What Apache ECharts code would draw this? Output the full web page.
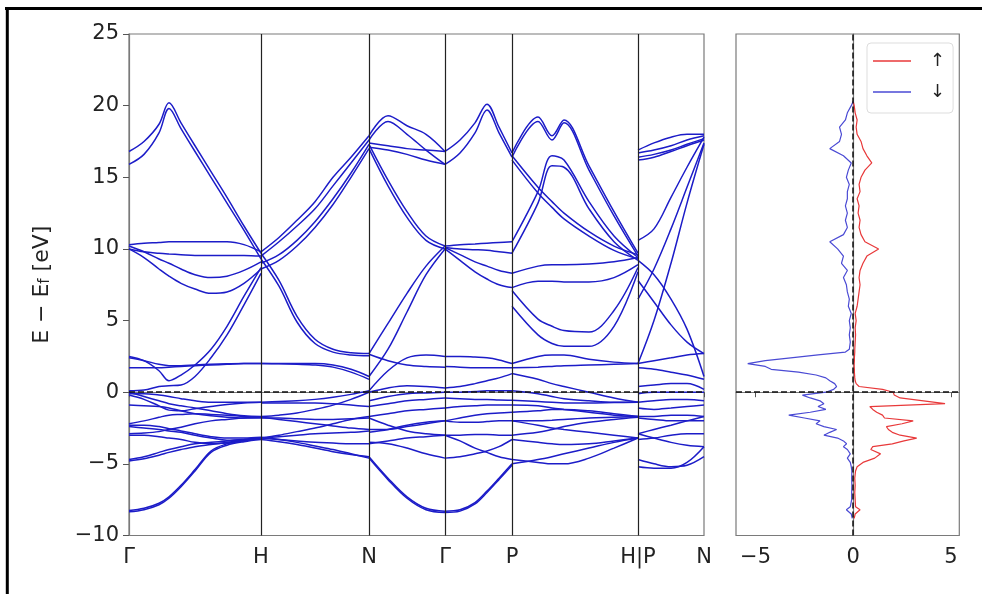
<!DOCTYPE html>
<html>
<head>
<meta charset="utf-8">
<script src="https://cdn.jsdelivr.net/npm/echarts@6/dist/echarts.min.js"></script>
<style>
  html, body { margin: 0; padding: 0; background: #fff; }
  #chart { width: 982px; height: 594px; }
</style>
</head>
<body>
<div id="chart"></div>
<script>
// k-path: high symmetry points (path length units)
const kTicks = [0, 132, 240, 316, 383, 509, 575]
const kLabels = ['Γ', 'H', 'N', 'Γ', 'P', 'H|P', 'N']

// k grids of every segment
const kGH = [0, 15, 30, 40, 52, 66, 82, 98, 115, 132]
const kHN = [132, 150, 168, 186, 204, 222, 240]
const kNG = [240, 259, 278, 297, 316]
const kGP = [316, 331, 346, 358, 370, 383]
const kPH = [383, 409, 423, 435, 460, 485, 509]
const kPN = [509, 525, 542, 558, 575]

// band energies (eV) read along each segment
const bandsGH = [
  [16.8, 17.5, 18.7, 20.2, 18.8, 17.2, 15.4, 13.6, 11.6, 9.7],
  [15.9, 16.6, 18.1, 19.8, 18.4, 16.8, 15.0, 13.2, 11.3, 9.3],
  [10.3, 10.4, 10.45, 10.5, 10.5, 10.5, 10.5, 10.5, 10.3, 9.8],
  [10.0, 9.8, 9.7, 9.65, 9.6, 9.55, 9.55, 9.55, 9.55, 9.5],
  [10.2, 9.8, 9.3, 9.0, 8.6, 8.2, 8.0, 8.1, 8.5, 9.1],
  [10.0, 9.4, 8.6, 8.1, 7.6, 7.2, 6.9, 7.0, 7.6, 8.6],
  [2.5, 2.2, 1.5, 0.8, 1.2, 1.9, 3.0, 4.6, 6.7, 8.7],
  [0.1, 0.15, 0.4, 0.45, 0.5, 1.1, 2.4, 4.0, 6.1, 8.3],
  [1.7, 1.7, 1.7, 1.75, 1.8, 1.85, 1.9, 1.95, 2.0, 2.0],
  [2.4, 2.2, 1.95, 1.85, 1.85, 1.9, 1.95, 1.98, 2.0, 2.0],
  [-0.1, -0.1, -0.2, -0.3, -0.45, -0.6, -0.7, -0.7, -0.7, -0.7],
  [-0.2, -0.5, -0.95, -1.25, -1.3, -1.15, -1.0, -0.85, -0.75, -0.7],
  [-0.9, -0.95, -1.0, -1.1, -1.3, -1.5, -1.65, -1.75, -1.8, -1.8],
  [-2.2, -2.0, -1.75, -1.6, -1.55, -1.5, -1.55, -1.6, -1.7, -1.75],
  [-2.4, -2.5, -2.6, -2.7, -2.8, -3.0, -3.2, -3.35, -3.3, -3.2],
  [-2.9, -2.85, -2.75, -2.6, -2.45, -2.2, -2.0, -1.9, -1.8, -1.75],
  [-4.7, -4.5, -4.2, -4.0, -3.8, -3.6, -3.5, -3.4, -3.3, -3.2],
  [-4.8, -4.65, -4.4, -4.2, -4.0, -3.8, -3.65, -3.5, -3.35, -3.25],
  [-8.25, -8.1, -7.75, -7.3, -6.5, -5.4, -4.1, -3.6, -3.35, -3.2],
  [-8.35, -8.2, -7.85, -7.4, -6.6, -5.5, -4.2, -3.7, -3.45, -3.3],
  [-3.0, -3.0, -3.1, -3.2, -3.3, -3.5, -3.6, -3.55, -3.4, -3.2],
  [-2.3, -2.3, -2.4, -2.55, -2.7, -2.9, -3.1, -3.2, -3.2, -3.15],
  [0.0, -0.3, -0.6, -0.8, -0.95, -1.1, -1.3, -1.5, -1.65, -1.7]
]
const bandsHN = [
  [9.8, 10.8, 12.0, 13.3, 15.0, 16.4, 17.9],
  [9.5, 10.5, 11.6, 12.8, 14.4, 16.0, 17.6],
  [9.0, 9.6, 10.6, 11.9, 13.5, 15.3, 17.3],
  [8.6, 9.2, 10.2, 11.5, 13.1, 15.0, 17.0],
  [9.7, 7.8, 5.3, 3.7, 3.0, 2.75, 2.7],
  [9.3, 7.4, 4.9, 3.4, 2.8, 2.6, 2.55],
  [2.0, 2.0, 2.0, 2.0, 1.9, 1.6, 1.1],
  [2.0, 1.98, 1.95, 1.9, 1.75, 1.4, 0.9],
  [-0.7, -0.65, -0.6, -0.5, -0.35, -0.15, 0.1],
  [-0.75, -0.75, -0.75, -0.75, -0.8, -0.9, -1.0],
  [-1.7, -1.6, -1.45, -1.2, -0.9, -0.5, 0.0],
  [-1.8, -1.8, -1.85, -1.9, -1.9, -1.85, -1.8],
  [-3.2, -3.0, -2.75, -2.5, -2.2, -1.9, -1.7],
  [-3.2, -3.3, -3.4, -3.5, -3.55, -3.6, -3.6],
  [-3.3, -3.45, -3.65, -3.9, -4.15, -4.35, -4.5],
  [-3.15, -3.3, -3.5, -3.75, -4.0, -4.3, -4.6],
  [-1.75, -1.9, -2.05, -2.2, -2.35, -2.5, -2.6],
  [-3.2, -3.1, -3.0, -2.9, -2.85, -2.8, -2.7]
]
const bandsNG = [
  [17.9, 19.3, 18.6, 18.0, 16.8],
  [17.6, 18.9, 18.0, 16.9, 15.9],
  [17.4, 17.2, 17.0, 16.9, 16.8],
  [17.1, 16.9, 16.6, 16.2, 15.9],
  [17.3, 14.8, 12.6, 10.9, 10.2],
  [17.0, 14.4, 12.2, 10.6, 10.0],
  [2.7, 4.8, 6.9, 8.8, 10.2],
  [1.1, 3.0, 5.6, 8.2, 10.0],
  [0.1, 1.5, 2.4, 2.6, 2.5],
  [2.65, 2.2, 1.9, 1.8, 1.75],
  [0.0, 0.3, 0.45, 0.4, 0.3],
  [-0.6, -0.3, -0.1, -0.05, 0.0],
  [-1.0, -0.8, -0.6, -0.5, -0.4],
  [-1.7, -1.5, -1.3, -1.2, -1.1],
  [-2.6, -2.6, -2.4, -2.2, -2.0],
  [-1.8, -2.3, -2.7, -2.9, -3.0],
  [-3.5, -3.6, -3.9, -4.3, -4.6],
  [-4.5, -6.0, -7.3, -8.1, -8.3],
  [-4.6, -6.1, -7.4, -8.2, -8.4],
  [-3.6, -3.4, -3.2, -3.1, -3.0],
  [-2.8, -2.6, -2.3, -2.1, -2.0]
]
const bandsGP = [
  [16.8, 17.6, 18.8, 20.1, 18.5, 16.7],
  [15.9, 16.7, 18.1, 19.7, 18.1, 16.4],
  [10.2, 10.3, 10.35, 10.4, 10.45, 10.5],
  [10.1, 10.0, 9.95, 9.9, 9.8, 9.7],
  [10.1, 9.6, 9.1, 8.8, 8.5, 8.3],
  [10.0, 9.2, 8.4, 7.9, 7.5, 7.3],
  [2.5, 2.5, 2.45, 2.4, 2.25, 2.0],
  [1.8, 1.75, 1.7, 1.7, 1.7, 1.7],
  [0.3, 0.4, 0.6, 0.8, 1.0, 1.3],
  [0.0, 0.0, 0.05, 0.1, 0.1, 0.1],
  [-0.4, -0.45, -0.5, -0.5, -0.55, -0.56],
  [-1.1, -1.0, -0.95, -0.9, -0.9, -0.9],
  [-2.0, -1.8, -1.6, -1.5, -1.45, -1.4],
  [-2.0, -2.1, -2.1, -2.05, -2.0, -2.0],
  [-3.0, -3.0, -2.95, -2.95, -3.0, -3.0],
  [-4.6, -4.5, -4.3, -4.1, -3.8, -3.3],
  [-8.3, -8.2, -7.7, -6.9, -6.0, -5.0],
  [-8.4, -8.3, -7.8, -7.0, -6.1, -5.1],
  [-3.0, -3.4, -3.9, -4.2, -4.5, -4.7]
]
const bandsPH = [
  [16.7, 19.2, 17.9, 19.0, 15.8, 12.6, 9.7],
  [16.4, 18.9, 17.6, 18.8, 15.5, 12.3, 9.5],
  [16.5, 14.3, 13.3, 12.5, 11.2, 10.2, 9.6],
  [16.2, 13.9, 12.9, 12.1, 10.9, 9.9, 9.3],
  [10.5, 14.0, 16.5, 16.2, 13.3, 10.9, 9.4],
  [9.7, 13.2, 15.8, 15.7, 12.8, 10.5, 9.2],
  [8.3, 8.8, 8.9, 8.9, 8.95, 9.1, 9.4],
  [7.3, 7.75, 7.75, 7.7, 7.7, 8.0, 8.9],
  [7.1, 5.1, 4.6, 4.3, 4.2, 5.7, 8.7],
  [6.0, 4.0, 3.4, 3.2, 3.2, 4.6, 8.4],
  [2.0, 2.5, 2.6, 2.6, 2.3, 2.1, 2.0],
  [1.7, 1.75, 1.8, 1.85, 1.9, 1.95, 2.0],
  [1.3, 0.9, 0.6, 0.4, 0.0, -0.4, -0.7],
  [0.1, -0.1, -0.3, -0.45, -0.6, -0.7, -0.7],
  [-0.56, -0.65, -0.7, -0.75, -0.75, -0.72, -0.7],
  [-0.9, -0.95, -1.1, -1.2, -1.4, -1.6, -1.7],
  [-1.4, -1.3, -1.2, -1.2, -1.3, -1.5, -1.7],
  [-2.0, -2.0, -1.95, -1.9, -1.8, -1.75, -1.7],
  [-3.0, -2.8, -2.6, -2.4, -2.1, -1.9, -1.75],
  [-3.3, -3.5, -3.6, -3.65, -3.6, -3.4, -3.2],
  [-4.7, -4.9, -5.0, -5.0, -4.6, -3.9, -3.2],
  [-5.0, -4.7, -4.5, -4.3, -3.9, -3.5, -3.2],
  [-2.0, -2.3, -2.5, -2.6, -2.8, -3.0, -3.2]
]
const bandsPN = [
  [16.9, 17.4, 17.8, 18.0, 18.0],
  [16.7, 16.9, 17.2, 17.6, 17.9],
  [16.2, 16.4, 16.8, 17.2, 17.6],
  [16.4, 16.6, 16.9, 17.3, 17.7],
  [10.6, 11.4, 13.6, 15.7, 17.8],
  [6.5, 8.6, 11.4, 14.3, 17.4],
  [2.0, 5.0, 9.0, 13.2, 17.3],
  [7.8, 6.3, 4.7, 3.5, 2.7],
  [9.2, 8.2, 6.5, 4.4, 1.1],
  [2.0, 2.2, 2.4, 2.6, 2.7],
  [1.7, 1.6, 1.4, 1.2, 0.9],
  [0.4, 0.5, 0.6, 0.6, 0.2],
  [-0.1, 0.0, 0.0, 0.0, 0.0],
  [-0.7, -0.6, -0.5, -0.5, -0.6],
  [-1.1, -1.2, -1.1, -1.0, -0.9],
  [-1.7, -1.7, -1.6, -1.6, -1.7],
  [-1.8, -1.9, -2.0, -2.0, -2.0],
  [-2.9, -2.6, -2.3, -2.0, -1.7],
  [-3.3, -3.2, -3.0, -2.9, -2.9],
  [-4.7, -5.0, -5.2, -5.1, -4.5],
  [-5.2, -5.3, -5.3, -4.9, -3.8],
  [-2.9, -3.2, -3.5, -3.7, -3.8]
]

// density of states, energy grid (eV) and spin up / spin down
const dosE = [
  -8.8, -8.5, -8.2, -8.0, -7.5, -7.0, -6.5, -6.0, -5.5, -5.2,
  -4.9, -4.6, -4.3, -4.0, -3.8, -3.6, -3.4, -3.2, -3.0, -2.8,
  -2.6, -2.4, -2.2, -2.0, -1.8, -1.6, -1.4, -1.2, -1.0, -0.8,
  -0.6, -0.4, -0.2, 0.0, 0.2, 0.4, 0.6, 0.8, 1.0, 1.2,
  1.4, 1.6, 1.8, 2.0, 2.2, 2.4, 2.6, 2.8, 3.0, 3.5,
  4.0, 4.5, 5.0, 5.5, 6.0, 6.5, 7.0, 7.5, 8.0, 8.5,
  9.0, 9.5, 10.0, 10.5, 11.0, 11.5, 12.0, 12.5, 13.0, 13.5,
  14.0, 14.5, 15.0, 15.5, 16.0, 16.5, 17.0, 17.5, 18.0, 18.5,
  19.0, 19.5, 20.0, 20.3
]
const dosUp = [
  0.05, 0.1, 0.35, 0.12, 0.1, 0.08, 0.1, 0.08, 0.12, 0.2,
  0.5, 1.1, 1.4, 0.9, 1.0, 2.0, 2.6, 3.25, 2.4, 2.0,
  1.8, 1.7, 2.5, 3.07, 1.6, 1.5, 1.2, 1.0, 0.85, 4.7,
  3.6, 2.4, 2.1, 2.05, 1.5, 0.3, 0.15, 0.1, 0.08, 0.07,
  0.06, 0.06, 0.05, 0.05, 0.06, 0.06, 0.07, 0.08, 0.08, 0.1,
  0.12, 0.1, 0.15, 0.1, 0.2, 0.25, 0.3, 0.35, 0.3, 0.35,
  0.5, 0.7, 1.3, 0.6, 0.4, 0.3, 0.35, 0.25, 0.3, 0.2,
  0.35, 0.3, 0.4, 0.6, 0.95, 0.7, 0.5, 0.4, 0.2, 0.15,
  0.2, 0.1, 0.05, 0.0
]
const dosDown = [
  -0.05, -0.1, -0.35, -0.15, -0.08, -0.08, -0.07, -0.08, -0.07, -0.1,
  -0.15, -0.3, -0.15, -0.3, -0.5, -0.34, -0.5, -0.8, -1.5, -1.2,
  -0.85, -1.5, -1.9, -1.7, -2.5, -3.3, -2.2, -1.4, -1.8, -1.5,
  -1.7, -2.2, -2.6, -1.4, -1.0, -0.85, -0.95, -1.2, -1.4, -1.9,
  -2.8, -4.2, -4.5, -5.4, -4.5, -3.2, -1.8, -0.4, -0.2, -0.15,
  -0.2, -0.15, -0.2, -0.1, -0.25, -0.2, -0.3, -0.35, -0.5, -0.3,
  -0.6, -0.5, -0.8, -1.2, -0.5, -0.3, -0.4, -0.3, -0.4, -0.3,
  -0.3, -0.2, -0.35, -0.25, -0.1, -0.5, -1.2, -0.7, -0.6, -0.7,
  -0.4, -0.3, -0.1, 0.0
]
const dosTicks = [-5, 0, 5]

const BAND_COLOR = '#1c1cc8'
const UP_COLOR = '#e8393a'
const DOWN_COLOR = '#4a4ad4'
const FONT = 'DejaVu Sans'

function minus(v) {
  return v < 0 ? '\u2212' + Math.abs(v) : String(v)
}

// one line series per band piece
function segmentSeries(grid, bands) {
  return bands.map(b => ({
    type: 'line',
    xAxisIndex: 0,
    yAxisIndex: 0,
    data: grid.map((k, i) => [k, b[i]]),
    smooth: 0.35,
    showSymbol: false,
    silent: true,
    lineStyle: { color: BAND_COLOR, width: 1.5 },
    z: 2
  }))
}

const chart = echarts.init(document.getElementById('chart'), null, { renderer: 'canvas' })

const series = [].concat(
  segmentSeries(kGH, bandsGH),
  segmentSeries(kHN, bandsHN),
  segmentSeries(kNG, bandsNG),
  segmentSeries(kGP, bandsGP),
  segmentSeries(kPH, bandsPH),
  segmentSeries(kPN, bandsPN)
)

// guide lines on the band panel
series.push({
  type: 'line',
  xAxisIndex: 0,
  yAxisIndex: 0,
  data: [],
  silent: true,
  z: 5,
  markLine: {
    symbol: 'none',
    silent: true,
    label: { show: false },
    animation: false,
    data: kTicks.slice(1, -1).map(k => ({
      xAxis: k,
      lineStyle: { color: '#222', width: 1.2, type: 'solid' }
    })).concat([{
      yAxis: 0,
      lineStyle: { color: '#111', width: 1.5, type: [6, 3] }
    }])
  }
})

series.push({
  name: '↑',
  type: 'line',
  xAxisIndex: 1,
  yAxisIndex: 1,
  data: dosE.map((e, i) => [dosUp[i], e]),
  showSymbol: false,
  silent: true,
  color: UP_COLOR,
  lineStyle: { color: UP_COLOR, width: 1.2 },
  z: 3
})
series.push({
  name: '↓',
  type: 'line',
  xAxisIndex: 1,
  yAxisIndex: 1,
  data: dosE.map((e, i) => [dosDown[i], e]),
  showSymbol: false,
  silent: true,
  color: DOWN_COLOR,
  lineStyle: { color: DOWN_COLOR, width: 1.2 },
  z: 3,
  markLine: {
    symbol: 'none',
    silent: true,
    label: { show: false },
    animation: false,
    lineStyle: { color: '#111', width: 1.5, type: [6, 3] },
    data: [{ xAxis: 0 }, { yAxis: 0 }]
  }
})

const option = {
  animation: false,
  backgroundColor: '#fff',
  textStyle: { fontFamily: FONT },
  grid: [
    { left: 129, top: 34, width: 575, height: 501.5, show: true, borderColor: '#7a7a7a', borderWidth: 1.2 },
    { left: 736, top: 34, width: 223.3, height: 501.5, show: true, borderColor: '#7a7a7a', borderWidth: 1.2 }
  ],
  xAxis: [
    {
      type: 'value',
      gridIndex: 0,
      min: 0,
      max: 575,
      splitLine: { show: false },
      axisLine: { lineStyle: { color: '#7a7a7a', width: 1.2 } },
      axisTick: { customValues: kTicks, length: 5, lineStyle: { color: '#555' } },
      axisLabel: {
        customValues: kTicks,
        formatter: v => kLabels[kTicks.indexOf(v)],
        color: '#222',
        fontSize: 21,
        fontFamily: FONT,
        margin: 12
      }
    },
    {
      type: 'value',
      gridIndex: 1,
      min: -6.0,
      max: 5.43,
      splitLine: { show: false },
      axisLine: { lineStyle: { color: '#7a7a7a', width: 1.2 } },
      axisTick: { customValues: dosTicks, length: 5, lineStyle: { color: '#555' } },
      axisLabel: {
        customValues: dosTicks,
        formatter: minus,
        color: '#222',
        fontSize: 21,
        fontFamily: FONT,
        margin: 12
      }
    }
  ],
  yAxis: [
    {
      type: 'value',
      gridIndex: 0,
      min: -10,
      max: 25,
      interval: 5,
      splitLine: { show: false },
      axisLine: { show: true, lineStyle: { color: '#7a7a7a', width: 1.2 } },
      axisTick: { show: true, length: 6, lineStyle: { color: '#555' } },
      axisLabel: { formatter: minus, color: '#222', fontSize: 21, fontFamily: FONT, margin: 10 },
      name: '{a|E \u2212 E}{s|f}{a| [eV]}',
      nameLocation: 'middle',
      nameRotate: 90,
      nameGap: 76,
      nameTextStyle: {
        color: '#222',
        rich: {
          a: { fontSize: 22, fontFamily: FONT, color: '#222' },
          s: { fontSize: 15, fontFamily: FONT, color: '#222', verticalAlign: 'bottom', padding: [7, 0, 0, 0] }
        }
      }
    },
    {
      type: 'value',
      gridIndex: 1,
      min: -10,
      max: 25,
      interval: 5,
      splitLine: { show: false },
      axisLine: { show: true, lineStyle: { color: '#7a7a7a', width: 1.2 } },
      axisTick: { show: false },
      axisLabel: { show: false }
    }
  ],
  legend: {
    data: ['↑', '↓'],
    orient: 'vertical',
    left: 867,
    top: 43,
    icon: 'rect',
    itemWidth: 38,
    itemHeight: 1.5,
    itemGap: 11,
    padding: [8, 8, 11, 6],
    backgroundColor: 'rgba(255,255,255,0.85)',
    borderColor: '#dddddd',
    borderWidth: 1,
    borderRadius: 4,
    textStyle: { color: '#222', fontSize: 18, fontFamily: FONT, lineHeight: 20, padding: [0, 0, 0, 14] }
  },
  graphic: [
    { type: 'line', shape: { x1: 5, y1: 8.5, x2: 982, y2: 8.5 }, style: { stroke: '#000', lineWidth: 3 }, silent: true },
    { type: 'line', shape: { x1: 7.3, y1: 7, x2: 7.3, y2: 594 }, style: { stroke: '#000', lineWidth: 3 }, silent: true }
  ],
  series: series
}

chart.setOption(option)
</script>
</body>
</html>
